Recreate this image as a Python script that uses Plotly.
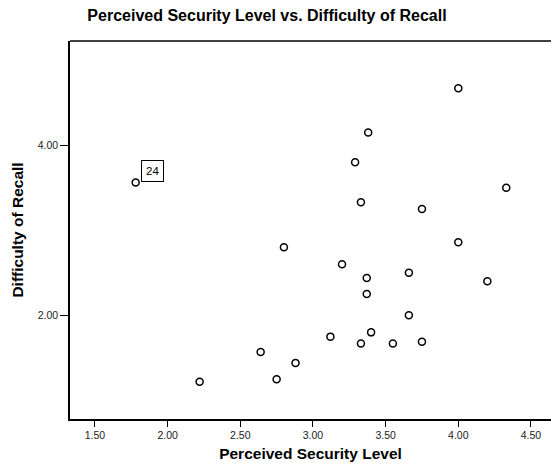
import plotly.graph_objects as go

security = [4.00, 3.38, 3.29, 1.78, 3.33, 3.75, 4.33,
            2.80, 4.00, 3.20, 3.66, 3.37, 4.20, 3.37, 3.66,
            3.40, 3.12, 3.33, 3.55, 3.75, 2.64, 2.88, 2.75, 2.22]
recall = [4.67, 4.15, 3.80, 3.56, 3.33, 3.25, 3.50,
          2.80, 2.86, 2.60, 2.50, 2.44, 2.40, 2.25, 2.00,
          1.80, 1.75, 1.67, 1.67, 1.69, 1.57, 1.44, 1.25, 1.22]
case_labels = [""] * 3 + ["24"] + [""] * 20

x_ticks = [1.5, 2.0, 2.5, 3.0, 3.5, 4.0, 4.5]
y_ticks = [2.0, 4.0]

W, H = 551, 470

fig = go.Figure()
fig.add_trace(go.Scatter(
    x=security, y=recall, mode="markers",
    marker=dict(symbol="circle-open", size=7, color="black",
                line=dict(width=1.5, color="black")),
    showlegend=False, hoverinfo="x+y",
))

for xv, yv, lab in zip(security, recall, case_labels):
    if lab:
        fig.add_annotation(
            x=xv, y=yv, text=lab, showarrow=False,
            xanchor="left", yanchor="bottom", xshift=5, yshift=1,
            bordercolor="black", borderwidth=1, borderpad=4,
            bgcolor="white",
            font=dict(family="Arial, Liberation Sans", size=11.5, color="black"),
        )

# top frame line (the reference has no right-hand frame line)
fig.add_shape(type="line", xref="paper", yref="paper", x0=0, x1=1.05, y0=1, y1=1,
              line=dict(color="black", width=1.5), layer="above")

fig.update_layout(
    width=W, height=H,
    margin=dict(l=70, r=0, t=41, b=51),
    paper_bgcolor="white", plot_bgcolor="white",
    font=dict(family="Arial, Liberation Sans", color="black"),
    title=dict(text="<b>Perceived Security Level vs. Difficulty of Recall</b>",
               x=267 / W, xanchor="center", xref="container",
               y=1 - 15 / H, yanchor="middle",
               font=dict(size=16, color="black")),
    xaxis=dict(range=[1.328, 4.638], tickvals=x_ticks,
               ticktext=[f"{v:.2f}" for v in x_ticks],
               showgrid=False, zeroline=False,
               showline=True, linecolor="black", linewidth=1.5, mirror=False,
               ticks="outside", ticklen=6, tickwidth=1, tickcolor="black",
               tickfont=dict(size=10.5, color="#222"),
               title=dict(text="<b>Perceived Security Level</b>",
                          font=dict(size=15.5, color="black"), standoff=8)),
    yaxis=dict(range=[0.782, 5.224], tickvals=y_ticks,
               ticktext=[f"{v:.2f}" for v in y_ticks],
               showgrid=False, zeroline=False,
               showline=True, linecolor="black", linewidth=1.5, mirror=False,
               ticks="outside", ticklen=8, tickwidth=1, tickcolor="black",
               tickfont=dict(size=10.5, color="#222"),
               title=dict(text="<b>Difficulty of Recall</b>",
                          font=dict(size=15.5, color="black"), standoff=10)),
)

fig.write_html(
    "out.html",
    config={"displayModeBar": False},
    post_script="document.body.style.margin='0';document.body.style.overflow='hidden';",
)
